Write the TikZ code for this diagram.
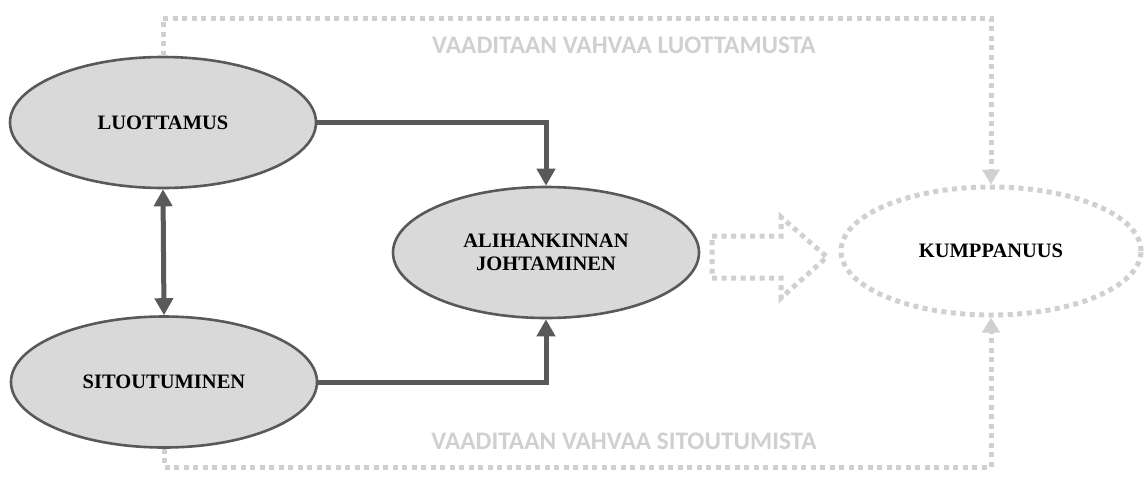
\documentclass[tikz,border=0pt]{standalone}
\usepackage{fontspec}
\setmainfont{Liberation Serif}
\newfontfamily\labfont{Carlito}
\usetikzlibrary{shapes.geometric,arrows.meta}
\definecolor{dk}{HTML}{595959}
\definecolor{fillg}{HTML}{D9D9D9}
\definecolor{lg}{HTML}{D0D0D0}
\tikzset{
  ell/.style={ellipse,draw=dk,line width=2.6pt,fill=fillg,minimum width=306pt,minimum height=131pt,inner sep=0pt,
     font=\bfseries\fontsize{20.5}{23}\selectfont,align=center},
  kell/.style={ellipse,draw=lg,line width=5pt,dash pattern=on 5pt off 4.5pt,minimum width=300pt,minimum height=128pt,inner sep=0pt,
     font=\bfseries\fontsize{20.5}{23}\selectfont},
  solidarr/.style={draw=dk,line width=5pt,-{Triangle[width=18pt,length=17pt]}},
  bothsolid/.style={draw=dk,line width=5pt,{Triangle[width=18pt,length=17pt]}-{Triangle[width=18pt,length=17pt]}},
  dotarr/.style={draw=lg,line width=5pt,dash pattern=on 5pt off 4.5pt,-{Triangle[width=17pt,length=15pt]}},
  lab/.style={text=lg,font=\labfont\bfseries\fontsize{25.3}{27}\selectfont,inner sep=0pt}
}
\begin{document}
\begin{tikzpicture}[x=1pt,y=-1pt]
\useasboundingbox (0,0) rectangle (1145,491);
\node[ell] (luo) at (163,122.5) {LUOTTAMUS};
\node[ell] (sit) at (164,382) {SITOUTUMINEN};
\node[ell] (ali) at (546,252.5) {ALIHANKINNAN\\JOHTAMINEN};
\node[kell] (kum) at (991,251) {KUMPPANUUS};
\coordinate (top) at (0,18);
\coordinate (bot) at (0,467);
\draw[bothsolid] (sit.north) -- (luo.south);
\draw[solidarr] (luo.east) -| (ali.north);
\draw[solidarr] (sit.east) -| (ali.south);
\draw[dotarr] (luo.north) -- (luo.north |- top) -- (kum.north |- top) -- (kum.north);
\draw[dotarr] (sit.south) -- (sit.south |- bot) -- (kum.south |- bot) -- (kum.south);
\node[lab] (l1) at (624,45) {VAADITAAN VAHVAA LUOTTAMUSTA};
\node[lab] (l2) at (624,441) {VAADITAAN VAHVAA SITOUTUMISTA};
\draw[draw=lg,line width=5pt,dash pattern=on 5pt off 4.5pt,line join=miter]
  (712,236) -- (781,236) -- (781,217) -- (827,257) -- (781,298) -- (781,278) -- (712,278) -- cycle;
\end{tikzpicture}
\end{document}
